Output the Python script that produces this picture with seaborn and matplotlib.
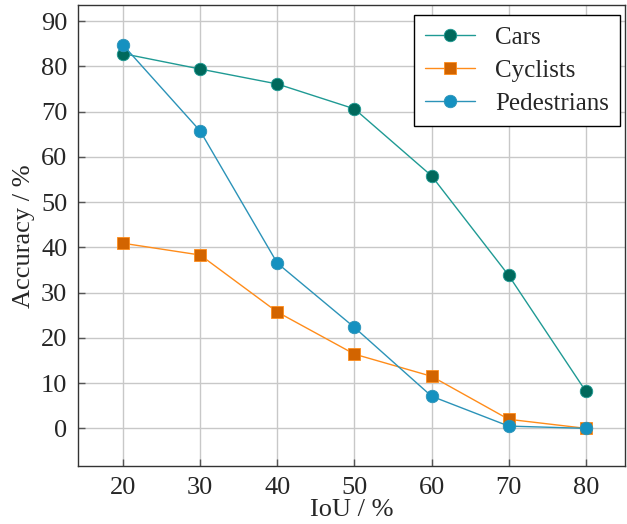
import pandas as pd
import numpy as np
import seaborn as sns
import matplotlib.pyplot as plt

# data
iou = [20, 30, 40, 50, 60, 70, 80]
cars = [82.8, 79.4, 76.1, 70.6, 55.8, 33.8, 8.2]
cyclists = [40.9, 38.3, 25.7, 16.4, 11.5, 2.0, 0.0]
pedestrians = [84.7, 65.7, 36.5, 22.3, 7.1, 0.5, 0.0]

series = ['Cars', 'Cyclists', 'Pedestrians']
line_colors = ['#1f9a94', '#ff8c1a', '#2b93b8']
face_colors = ['#00695c', '#d26400', '#1591c0']
markers = ['o', 's', 'o']

df = pd.DataFrame({
    'IoU': iou * 3,
    'Accuracy': cars + cyclists + pedestrians,
    'Class': [s for s in series for _ in iou],
})

sns.set_theme(style='whitegrid')
plt.rcParams['font.family'] = ['Liberation Serif', 'DejaVu Serif']

fig, ax = plt.subplots(figsize=(6.27, 5.24), dpi=100)

for name, lc, fc, mk in zip(series, line_colors, face_colors, markers):
    sub = df[df['Class'] == name]
    sns.lineplot(data=sub, x='IoU', y='Accuracy', ax=ax, color=lc, lw=1.0,
                 marker=mk, markersize=9 if mk == 'o' else 8.5,
                 markerfacecolor=fc, markeredgecolor=lc, markeredgewidth=0.6,
                 label=name)

ax.set_xlim(14.2, 85.1)
ax.set_ylim(-8.4, 93.5)
ax.set_xticks(iou)
ax.set_yticks(range(0, 91, 10))
ax.grid(True, color='#c8c8c8', lw=1.0)
ax.tick_params(axis='both', direction='in', length=5, width=1, color='#555555',
               labelsize=19, left=True, bottom=True, pad=8)
for sp in ax.spines.values():
    sp.set_color('#333333')
    sp.set_linewidth(1.0)

ax.set_xlabel('IoU / %', fontsize=19, labelpad=0)
ax.set_ylabel('Accuracy / %', fontsize=19, labelpad=4)

leg = ax.legend(loc='upper right', bbox_to_anchor=(0.991, 0.978), borderaxespad=0,
                fontsize=18, frameon=True, fancybox=False,
                edgecolor='black', framealpha=1,
                handlelength=2.0, labelspacing=0.42, borderpad=0.45)
leg.get_frame().set_linewidth(1.0)

fig.subplots_adjust(left=0.125, right=0.997, top=0.99, bottom=0.11)
fig.savefig('out.png', dpi=100)
